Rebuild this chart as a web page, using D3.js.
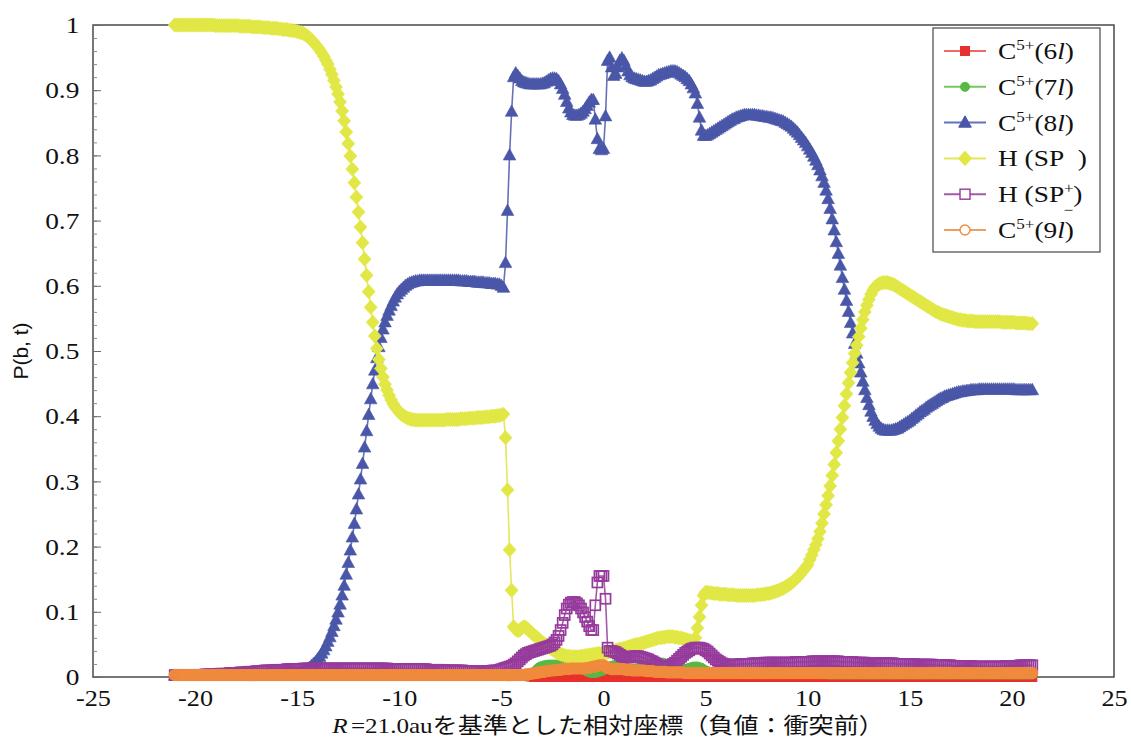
<!DOCTYPE html>
<html>
<head>
<meta charset="utf-8">
<script src="https://cdn.jsdelivr.net/npm/d3@7"></script>
<style>
  html, body { margin: 0; padding: 0; background: #fff; }
  svg { display: block; }
</style>
</head>
<body>
<svg id="chart" width="1131" height="741"></svg>
<script>
// Relative coordinate grid (au), sampled every 0.1 au from -21.0 to 21.0
const gridStart = -21.0;
const gridStep = 0.1;
const gridCount = 421;

const xTicks = [-25, -20, -15, -10, -5, 0, 5, 10, 15, 20, 25];
const yTicks = [0, 0.1, 0.2, 0.3, 0.4, 0.5, 0.6, 0.7, 0.8, 0.9, 1];

// C5+(6l) probability — one row per 1 au
const c6 = [
0.003,0.003,0.003,0.003,0.003,0.003,0.003,0.003,0.003,0.003,
0.003,0.003,0.003,0.003,0.003,0.003,0.003,0.003,0.003,0.003,
0.003,0.003,0.003,0.003,0.003,0.003,0.003,0.003,0.003,0.003,
0.003,0.003,0.003,0.003,0.003,0.003,0.003,0.003,0.003,0.003,
0.003,0.003,0.003,0.003,0.003,0.003,0.003,0.003,0.003,0.003,
0.003,0.003,0.003,0.003,0.003,0.003,0.003,0.003,0.003,0.003,
0.003,0.003,0.003,0.003,0.003,0.003,0.003,0.003,0.003,0.003,
0.003,0.003,0.003,0.003,0.003,0.003,0.003,0.003,0.003,0.003,
0.003,0.003,0.003,0.003,0.003,0.003,0.003,0.003,0.003,0.003,
0.003,0.003,0.003,0.003,0.003,0.003,0.003,0.003,0.003,0.003,
0.003,0.003,0.003,0.003,0.003,0.003,0.003,0.003,0.003,0.003,
0.003,0.003,0.003,0.003,0.003,0.003,0.003,0.003,0.003,0.003,
0.003,0.003,0.003,0.003,0.003,0.003,0.003,0.003,0.003,0.003,
0.003,0.003,0.003,0.003,0.003,0.003,0.003,0.003,0.003,0.003,
0.003,0.003,0.003,0.003,0.003,0.003,0.003,0.003,0.003,0.003,
0.003,0.003,0.003,0.003,0.003,0.003,0.003,0.003,0.003,0.003,
0.003,0.003,0.003,0.003,0.003,0.003,0.003,0.003,0.003,0.003,
0.003,0.003,0.002,0.002,0.001,0.001,0,0,0,0,
0,0,0,0,0,0,0,0,0,0,
0,0,0,0,0,0,0,0,0,0,
0,0,0,0,0,0,0,0,0,0,
0,0,0,0,0,0,0,0,0,0,
0,0,0,0,0,0,0,0,0,0,
0,0,0,0,0,0,0,0,0,0,
0,0,0,0,0,0,0,0,0,0,
0,0,0,0,0,0,0,0,0,0,
0,0,0,0,0,0,0,0,0,0,
0,0,0,0,0,0,0,0,0,0,
0,0,0,0,0,0,0,0,0,0,
0,0,0,0,0,0,0,0,0,0,
0,0,0,0,0,0,0,0,0,0,
0,0,0,0,0,0,0,0,0,0,
0,0,0,0,0,0,0,0,0,0,
0,0,0,0,0,0,0,0,0,0,
0,0,0,0,0,0,0,0,0,0,
0,0,0,0,0,0,0,0,0,0,
0,0,0,0,0,0,0,0,0,0,
0,0,0,0,0,0,0,0,0,0,
0,0,0,0,0,0,0,0,0,0,
0,0,0,0,0,0,0,0,0,0,
0,0,0,0,0,0,0,0,0,0,
0,0,0,0,0,0,0,0,0,0,
0
];

// C5+(7l) probability
const c7 = [
0.002,0.002,0.002,0.002,0.002,0.002,0.002,0.002,0.002,0.002,
0.002,0.002,0.002,0.002,0.002,0.002,0.002,0.002,0.002,0.002,
0.002,0.002,0.002,0.002,0.002,0.002,0.002,0.002,0.002,0.002,
0.002,0.002,0.002,0.002,0.002,0.002,0.002,0.002,0.002,0.002,
0.002,0.002,0.002,0.002,0.002,0.002,0.002,0.002,0.002,0.002,
0.002,0.002,0.002,0.002,0.002,0.002,0.002,0.002,0.002,0.002,
0.002,0.002,0.002,0.002,0.002,0.002,0.002,0.002,0.002,0.002,
0.002,0.002,0.002,0.002,0.002,0.002,0.002,0.002,0.002,0.002,
0.002,0.002,0.002,0.002,0.002,0.002,0.002,0.002,0.002,0.002,
0.002,0.002,0.002,0.002,0.002,0.002,0.002,0.002,0.002,0.002,
0.002,0.002,0.002,0.002,0.002,0.002,0.002,0.002,0.002,0.002,
0.002,0.002,0.002,0.002,0.002,0.002,0.002,0.002,0.002,0.002,
0.002,0.002,0.002,0.002,0.002,0.002,0.002,0.002,0.002,0.002,
0.002,0.002,0.002,0.002,0.002,0.002,0.002,0.002,0.002,0.002,
0.002,0.002,0.002,0.002,0.002,0.002,0.002,0.002,0.002,0.002,
0.002,0.002,0.002,0.002,0.002,0.002,0.002,0.002,0.002,0.002,
0.002,0.002,0.002,0.002,0.002,0.002,0.002,0.002,0.002,0.002,
0.002,0.002,0.002,0.002,0.003,0.005,0.008,0.011,0.014,0.016,
0.017,0.018,0.018,0.019,0.019,0.019,0.019,0.019,0.018,0.018,
0.018,0.018,0.018,0.018,0.017,0.017,0.017,0.016,0.015,0.014,
0.012,0.010,0.008,0.007,0.006,0.006,0.006,0.007,0.008,0.009,
0.010,0.012,0.014,0.016,0.017,0.018,0.018,0.018,0.017,0.016,
0.015,0.014,0.013,0.012,0.012,0.012,0.013,0.014,0.015,0.016,
0.017,0.018,0.019,0.020,0.021,0.021,0.022,0.022,0.022,0.022,
0.021,0.020,0.019,0.017,0.015,0.013,0.011,0.010,0.010,0.011,
0.012,0.013,0.014,0.015,0.016,0.016,0.016,0.015,0.014,0.012,
0.010,0.009,0.008,0.007,0.006,0.006,0.005,0.005,0.005,0.005,
0.005,0.005,0.005,0.005,0.005,0.005,0.005,0.005,0.005,0.005,
0.005,0.005,0.005,0.005,0.005,0.005,0.005,0.005,0.005,0.005,
0.005,0.005,0.005,0.005,0.005,0.005,0.005,0.005,0.005,0.005,
0.005,0.005,0.005,0.005,0.005,0.005,0.005,0.005,0.005,0.005,
0.005,0.005,0.005,0.005,0.005,0.005,0.005,0.005,0.005,0.005,
0.004,0.004,0.004,0.004,0.004,0.004,0.004,0.004,0.004,0.004,
0.004,0.004,0.004,0.004,0.004,0.004,0.004,0.004,0.004,0.004,
0.004,0.004,0.004,0.004,0.004,0.004,0.004,0.004,0.004,0.004,
0.004,0.004,0.004,0.004,0.004,0.004,0.004,0.004,0.004,0.004,
0.004,0.004,0.004,0.004,0.004,0.004,0.004,0.004,0.004,0.004,
0.004,0.004,0.004,0.004,0.004,0.004,0.004,0.004,0.004,0.004,
0.004,0.004,0.004,0.004,0.004,0.004,0.004,0.004,0.004,0.004,
0.004,0.004,0.004,0.004,0.004,0.004,0.004,0.004,0.004,0.004,
0.004,0.004,0.004,0.004,0.004,0.004,0.004,0.004,0.004,0.004,
0.004,0.004,0.004,0.004,0.004,0.004,0.004,0.004,0.004,0.004,
0.004
];

// C5+(8l) probability
const c8 = [
0.002,0.002,0.002,0.002,0.002,0.002,0.002,0.002,0.002,0.002,
0.002,0.002,0.002,0.002,0.002,0.002,0.002,0.002,0.002,0.002,
0.002,0.002,0.002,0.002,0.002,0.003,0.003,0.003,0.003,0.003,
0.003,0.003,0.003,0.003,0.003,0.003,0.003,0.003,0.003,0.003,
0.003,0.003,0.003,0.003,0.003,0.004,0.004,0.004,0.004,0.004,
0.004,0.004,0.004,0.004,0.004,0.005,0.005,0.005,0.005,0.005,
0.005,0.006,0.007,0.008,0.010,0.012,0.014,0.017,0.020,0.023,
0.027,0.031,0.036,0.041,0.047,0.054,0.061,0.069,0.078,0.088,
0.099,0.111,0.125,0.140,0.157,0.175,0.194,0.214,0.235,0.257,
0.280,0.303,0.327,0.352,0.377,0.402,0.426,0.449,0.470,0.489,
0.506,0.520,0.533,0.544,0.554,0.562,0.569,0.576,0.582,0.587,
0.591,0.594,0.597,0.600,0.602,0.604,0.605,0.606,0.607,0.607,
0.608,0.608,0.608,0.608,0.608,0.608,0.608,0.608,0.608,0.608,
0.608,0.608,0.608,0.608,0.608,0.608,0.608,0.608,0.608,0.608,
0.607,0.607,0.607,0.607,0.606,0.606,0.606,0.606,0.605,0.605,
0.605,0.605,0.604,0.604,0.604,0.603,0.603,0.603,0.602,0.602,
0.600,0.597,0.635,0.715,0.800,0.867,0.920,0.926,0.922,0.918,
0.914,0.912,0.911,0.910,0.909,0.909,0.909,0.909,0.909,0.909,
0.910,0.911,0.913,0.915,0.917,0.918,0.918,0.917,0.914,0.909,
0.902,0.893,0.882,0.872,0.866,0.862,0.861,0.861,0.862,0.864,
0.867,0.871,0.876,0.881,0.885,0.885,0.855,0.825,0.810,0.808,
0.810,0.860,0.945,0.950,0.935,0.922,0.925,0.935,0.945,0.949,
0.945,0.937,0.929,0.923,0.920,0.918,0.917,0.916,0.915,0.914,
0.913,0.913,0.914,0.915,0.917,0.919,0.921,0.923,0.924,0.925,
0.926,0.927,0.928,0.929,0.929,0.929,0.928,0.926,0.924,0.922,
0.920,0.917,0.914,0.909,0.903,0.895,0.879,0.858,0.838,0.830,
0.830,0.831,0.833,0.835,0.837,0.839,0.841,0.843,0.845,0.847,
0.849,0.851,0.853,0.855,0.856,0.858,0.859,0.860,0.861,0.862,
0.862,0.862,0.862,0.862,0.862,0.861,0.861,0.860,0.860,0.859,
0.859,0.858,0.858,0.857,0.856,0.855,0.854,0.853,0.852,0.850,
0.848,0.846,0.844,0.841,0.838,0.835,0.831,0.827,0.823,0.819,
0.814,0.809,0.804,0.798,0.792,0.785,0.777,0.768,0.758,0.746,
0.733,0.718,0.702,0.685,0.667,0.649,0.631,0.612,0.594,0.577,
0.560,0.543,0.527,0.511,0.496,0.481,0.467,0.453,0.440,0.428,
0.417,0.407,0.399,0.393,0.388,0.384,0.381,0.379,0.378,0.378,
0.378,0.378,0.379,0.380,0.381,0.383,0.385,0.387,0.389,0.391,
0.393,0.396,0.398,0.401,0.403,0.406,0.408,0.410,0.413,0.415,
0.417,0.419,0.421,0.423,0.425,0.427,0.428,0.430,0.431,0.432,
0.433,0.434,0.435,0.436,0.437,0.437,0.438,0.438,0.439,0.439,
0.440,0.440,0.440,0.440,0.441,0.441,0.441,0.441,0.441,0.441,
0.441,0.441,0.441,0.441,0.441,0.441,0.441,0.441,0.441,0.441,
0.441,0.441,0.440,0.440,0.440,0.440,0.440,0.440,0.440,0.440,
0.440
];

// H (SP-) probability
const spMinus = [
1.000,1.000,1.000,1.000,1.000,1.000,1.000,1.000,1.000,1.000,
1.000,1.000,1.000,1.000,1.000,1.000,1.000,1.000,1.000,1.000,
0.999,0.999,0.999,0.999,0.999,0.999,0.999,0.999,0.999,0.999,
0.999,0.999,0.998,0.998,0.998,0.998,0.998,0.998,0.997,0.997,
0.997,0.997,0.997,0.996,0.996,0.996,0.996,0.995,0.995,0.995,
0.995,0.994,0.994,0.993,0.993,0.993,0.992,0.992,0.991,0.991,
0.990,0.989,0.988,0.987,0.985,0.983,0.980,0.977,0.974,0.970,
0.966,0.962,0.957,0.952,0.946,0.940,0.932,0.924,0.915,0.905,
0.894,0.882,0.868,0.853,0.836,0.818,0.799,0.779,0.758,0.736,
0.713,0.690,0.666,0.641,0.616,0.591,0.567,0.544,0.523,0.504,
0.487,0.473,0.460,0.449,0.440,0.432,0.425,0.419,0.414,0.410,
0.406,0.403,0.401,0.399,0.397,0.396,0.395,0.395,0.394,0.394,
0.394,0.394,0.394,0.394,0.394,0.394,0.394,0.394,0.394,0.394,
0.394,0.394,0.394,0.395,0.395,0.395,0.395,0.395,0.395,0.395,
0.396,0.396,0.396,0.396,0.397,0.397,0.397,0.397,0.398,0.398,
0.398,0.398,0.399,0.399,0.399,0.400,0.400,0.400,0.401,0.401,
0.402,0.403,0.367,0.287,0.195,0.133,0.077,0.073,0.071,0.072,
0.075,0.077,0.076,0.073,0.070,0.067,0.064,0.062,0.059,0.056,
0.053,0.051,0.048,0.046,0.044,0.042,0.040,0.038,0.036,0.035,
0.034,0.033,0.032,0.032,0.031,0.031,0.031,0.031,0.031,0.032,
0.032,0.033,0.033,0.034,0.034,0.035,0.035,0.036,0.036,0.036,
0.037,0.037,0.038,0.038,0.039,0.040,0.041,0.042,0.043,0.043,
0.044,0.045,0.046,0.047,0.048,0.049,0.050,0.050,0.051,0.052,
0.053,0.054,0.055,0.056,0.057,0.058,0.059,0.060,0.060,0.061,
0.061,0.062,0.062,0.062,0.062,0.061,0.061,0.060,0.060,0.059,
0.058,0.057,0.056,0.055,0.054,0.060,0.075,0.092,0.110,0.125,
0.130,0.130,0.129,0.129,0.128,0.128,0.128,0.127,0.127,0.127,
0.127,0.126,0.126,0.126,0.126,0.125,0.125,0.125,0.125,0.125,
0.125,0.125,0.125,0.125,0.125,0.126,0.126,0.126,0.127,0.127,
0.128,0.128,0.129,0.130,0.131,0.132,0.133,0.135,0.136,0.138,
0.140,0.142,0.144,0.147,0.150,0.153,0.156,0.160,0.164,0.168,
0.172,0.180,0.187,0.195,0.203,0.212,0.223,0.236,0.250,0.264,
0.278,0.293,0.309,0.326,0.344,0.362,0.380,0.398,0.416,0.434,
0.451,0.467,0.482,0.496,0.509,0.522,0.535,0.548,0.560,0.570,
0.579,0.587,0.593,0.598,0.601,0.603,0.604,0.605,0.605,0.605,
0.604,0.603,0.602,0.600,0.598,0.596,0.594,0.592,0.590,0.588,
0.586,0.584,0.582,0.580,0.578,0.576,0.574,0.572,0.570,0.568,
0.566,0.564,0.562,0.560,0.559,0.557,0.556,0.555,0.554,0.553,
0.552,0.551,0.550,0.549,0.548,0.548,0.547,0.547,0.546,0.546,
0.546,0.546,0.545,0.545,0.545,0.545,0.545,0.545,0.545,0.545,
0.545,0.545,0.545,0.545,0.545,0.544,0.544,0.544,0.544,0.544,
0.544,0.544,0.543,0.543,0.543,0.543,0.543,0.543,0.542,0.542,
0.542
];

// H (SP+) probability
const spPlus = [
0.003,0.003,0.003,0.003,0.003,0.003,0.003,0.003,0.003,0.003,
0.003,0.003,0.003,0.003,0.003,0.004,0.004,0.004,0.004,0.004,
0.004,0.004,0.005,0.005,0.005,0.005,0.005,0.006,0.006,0.006,
0.006,0.006,0.007,0.007,0.007,0.007,0.008,0.008,0.008,0.008,
0.009,0.009,0.009,0.009,0.010,0.010,0.010,0.010,0.010,0.011,
0.011,0.011,0.011,0.011,0.011,0.012,0.012,0.012,0.012,0.012,
0.012,0.012,0.012,0.013,0.013,0.013,0.013,0.013,0.013,0.013,
0.013,0.013,0.013,0.013,0.013,0.013,0.013,0.013,0.013,0.013,
0.013,0.013,0.013,0.013,0.013,0.013,0.013,0.013,0.013,0.013,
0.013,0.013,0.013,0.013,0.013,0.013,0.013,0.013,0.013,0.013,
0.013,0.013,0.013,0.013,0.013,0.012,0.012,0.012,0.012,0.012,
0.012,0.012,0.012,0.012,0.012,0.012,0.012,0.012,0.012,0.012,
0.012,0.012,0.012,0.012,0.011,0.011,0.011,0.011,0.011,0.011,
0.011,0.011,0.011,0.010,0.010,0.010,0.010,0.010,0.010,0.010,
0.010,0.010,0.009,0.009,0.009,0.009,0.009,0.009,0.009,0.009,
0.009,0.009,0.009,0.009,0.009,0.009,0.010,0.010,0.010,0.011,
0.012,0.013,0.014,0.015,0.016,0.017,0.019,0.021,0.024,0.027,
0.030,0.033,0.035,0.037,0.038,0.039,0.040,0.041,0.042,0.043,
0.044,0.045,0.046,0.047,0.048,0.050,0.053,0.057,0.063,0.072,
0.083,0.095,0.105,0.111,0.114,0.115,0.115,0.113,0.110,0.105,
0.099,0.092,0.085,0.078,0.072,0.072,0.110,0.145,0.155,0.155,
0.155,0.120,0.045,0.040,0.040,0.039,0.038,0.036,0.034,0.032,
0.031,0.030,0.030,0.030,0.031,0.032,0.032,0.032,0.031,0.030,
0.029,0.028,0.027,0.025,0.024,0.022,0.020,0.018,0.017,0.016,
0.016,0.016,0.017,0.018,0.020,0.022,0.025,0.028,0.031,0.034,
0.037,0.039,0.041,0.043,0.044,0.045,0.045,0.045,0.044,0.043,
0.041,0.039,0.036,0.033,0.030,0.027,0.025,0.023,0.021,0.020,
0.019,0.019,0.019,0.019,0.019,0.019,0.019,0.020,0.020,0.020,
0.020,0.020,0.020,0.021,0.021,0.021,0.021,0.021,0.021,0.022,
0.022,0.022,0.022,0.022,0.022,0.022,0.022,0.022,0.022,0.022,
0.022,0.022,0.022,0.022,0.023,0.023,0.023,0.023,0.023,0.023,
0.023,0.023,0.024,0.024,0.024,0.024,0.024,0.024,0.024,0.024,
0.024,0.024,0.024,0.024,0.024,0.024,0.023,0.023,0.023,0.023,
0.023,0.023,0.023,0.022,0.022,0.022,0.022,0.022,0.022,0.021,
0.021,0.021,0.021,0.021,0.021,0.021,0.021,0.021,0.021,0.021,
0.021,0.021,0.021,0.020,0.020,0.020,0.020,0.020,0.020,0.020,
0.020,0.020,0.020,0.019,0.019,0.019,0.019,0.019,0.019,0.019,
0.019,0.019,0.018,0.018,0.018,0.018,0.018,0.018,0.018,0.018,
0.018,0.017,0.017,0.017,0.017,0.017,0.017,0.017,0.017,0.017,
0.017,0.016,0.016,0.016,0.016,0.016,0.016,0.016,0.016,0.016,
0.016,0.016,0.016,0.016,0.016,0.016,0.016,0.017,0.017,0.017,
0.017,0.017,0.017,0.017,0.018,0.018,0.018,0.018,0.018,0.018,
0.018
];

// C5+(9l) probability
const c9 = [
0.003,0.003,0.003,0.003,0.003,0.003,0.003,0.003,0.003,0.003,
0.003,0.003,0.003,0.003,0.003,0.003,0.003,0.003,0.003,0.003,
0.003,0.003,0.003,0.003,0.003,0.003,0.003,0.003,0.003,0.003,
0.003,0.003,0.003,0.003,0.003,0.003,0.003,0.003,0.003,0.003,
0.003,0.003,0.003,0.003,0.003,0.003,0.003,0.003,0.003,0.003,
0.003,0.003,0.003,0.003,0.003,0.003,0.003,0.003,0.003,0.003,
0.003,0.003,0.003,0.003,0.003,0.003,0.003,0.003,0.003,0.003,
0.003,0.003,0.003,0.003,0.003,0.003,0.003,0.003,0.003,0.003,
0.003,0.003,0.003,0.003,0.003,0.003,0.003,0.003,0.003,0.003,
0.003,0.003,0.003,0.003,0.003,0.003,0.003,0.003,0.003,0.003,
0.003,0.003,0.003,0.003,0.003,0.003,0.003,0.003,0.003,0.003,
0.003,0.003,0.003,0.003,0.003,0.003,0.003,0.003,0.003,0.003,
0.003,0.003,0.003,0.003,0.003,0.003,0.003,0.003,0.003,0.003,
0.003,0.003,0.003,0.003,0.003,0.003,0.003,0.003,0.003,0.003,
0.003,0.003,0.003,0.003,0.003,0.003,0.003,0.003,0.003,0.003,
0.003,0.003,0.003,0.003,0.003,0.003,0.003,0.003,0.003,0.003,
0.003,0.003,0.003,0.003,0.003,0.003,0.003,0.003,0.003,0.003,
0.003,0.003,0.004,0.004,0.005,0.005,0.006,0.006,0.007,0.007,
0.008,0.008,0.009,0.009,0.010,0.010,0.010,0.011,0.011,0.011,
0.012,0.012,0.012,0.012,0.013,0.013,0.013,0.013,0.013,0.013,
0.013,0.013,0.014,0.014,0.015,0.016,0.016,0.017,0.018,0.018,
0.018,0.016,0.014,0.013,0.012,0.012,0.012,0.012,0.012,0.012,
0.012,0.011,0.011,0.011,0.010,0.010,0.010,0.010,0.010,0.010,
0.010,0.009,0.009,0.009,0.009,0.008,0.008,0.008,0.008,0.008,
0.008,0.007,0.007,0.007,0.007,0.007,0.007,0.007,0.007,0.007,
0.006,0.006,0.006,0.006,0.006,0.006,0.006,0.006,0.006,0.006,
0.006,0.006,0.006,0.006,0.006,0.006,0.006,0.006,0.006,0.006,
0.006,0.006,0.006,0.006,0.006,0.006,0.006,0.006,0.006,0.006,
0.006,0.006,0.006,0.006,0.006,0.006,0.006,0.006,0.006,0.006,
0.006,0.006,0.006,0.006,0.006,0.006,0.006,0.006,0.006,0.006,
0.006,0.006,0.006,0.006,0.006,0.006,0.006,0.006,0.006,0.006,
0.006,0.006,0.006,0.006,0.006,0.006,0.006,0.006,0.006,0.006,
0.006,0.006,0.006,0.006,0.006,0.006,0.006,0.006,0.006,0.006,
0.006,0.006,0.006,0.006,0.006,0.006,0.006,0.006,0.006,0.006,
0.006,0.006,0.006,0.006,0.006,0.006,0.006,0.006,0.006,0.006,
0.006,0.006,0.006,0.006,0.006,0.006,0.006,0.006,0.006,0.006,
0.006,0.006,0.006,0.006,0.006,0.006,0.006,0.006,0.006,0.006,
0.006,0.006,0.006,0.006,0.006,0.006,0.006,0.006,0.006,0.006,
0.006,0.006,0.006,0.006,0.006,0.006,0.006,0.006,0.006,0.006,
0.006,0.006,0.006,0.006,0.006,0.006,0.006,0.006,0.006,0.006,
0.006,0.006,0.006,0.006,0.006,0.006,0.006,0.006,0.006,0.006,
0.006,0.006,0.006,0.006,0.006,0.006,0.006,0.006,0.006,0.006,
0.006
];

// Legend labels: pieces of [text, style]
const legendLabels = [
  [["C"], ["5+", "sup"], ["(6"], ["l", "it"], [")"]],
  [["C"], ["5+", "sup"], ["(7"], ["l", "it"], [")"]],
  [["C"], ["5+", "sup"], ["(8"], ["l", "it"], [")"]],
  [["H (SP\u2002)"]],
  [["H (SP"], ["+", "sup"], ["\u2212", "sub"], [")"]],
  [["C"], ["5+", "sup"], ["(9"], ["l", "it"], [")"]]
];

const xs = d3.range(gridCount).map(i => +(gridStart + i * gridStep).toFixed(1));

const plot = { left: 93, right: 1114, top: 25, bottom: 677 };
const x = d3.scaleLinear().domain([-25, 25]).range([plot.left, plot.right]);
const y = d3.scaleLinear().domain([0, 1]).range([plot.bottom, plot.top]);

const svg = d3.select("#chart");
const serif = "'Liberation Serif', 'Times New Roman', 'Noto Sans CJK JP', serif";
const stretch = 1.14; // horizontal text stretch

// marker shapes
const shapes = {
  square: g => g.append("rect").attr("x", -4.5).attr("y", -4.5).attr("width", 9).attr("height", 9),
  circle: g => g.append("circle").attr("r", 4.5),
  triangle: g => g.append("path").attr("d", "M0,-6.8L6.3,4.6L-6.3,4.6Z"),
  diamond: g => g.append("path").attr("d", "M0,-7.2L6.6,0L0,7.2L-6.6,0Z"),
  openSquare: g => g.append("rect").attr("x", -5).attr("y", -5).attr("width", 10).attr("height", 10),
  openCircle: g => g.append("circle").attr("r", 5)
};

const series = [
  { values: c6, shape: "square", fill: "#e8302c", stroke: "#e8302c", line: "#ef6a66", sw: 1 },
  { values: c7, shape: "circle", fill: "#55b943", stroke: "#55b943", line: "#74c762", sw: 1 },
  { values: c8, shape: "triangle", fill: "#4a57a8", stroke: "#4a57a8", line: "#6672b8", sw: 0.6 },
  { values: spMinus, shape: "diamond", fill: "#e1e745", stroke: "#e1e745", line: "#e3e85a", sw: 0.5 },
  { values: spPlus, shape: "openSquare", fill: "none", stroke: "#963a9c", line: "#a45aa9", sw: 1.7 },
  { values: c9, shape: "openCircle", fill: "none", stroke: "#f08a3c", line: "#f29e62", sw: 2.2 }
];

// frame
svg.append("rect")
  .attr("x", plot.left).attr("y", plot.top)
  .attr("width", plot.right - plot.left).attr("height", plot.bottom - plot.top)
  .attr("fill", "none").attr("stroke", "#4a4a4a").attr("stroke-width", 1.5);

// minor y ticks
const yMinorAxis = d3.axisLeft(y).tickValues(d3.range(0, 1.0001, 0.02)).tickSize(-4).tickFormat("");
svg.append("g").attr("transform", `translate(${plot.left},0)`).call(yMinorAxis)
  .call(g => g.select(".domain").remove())
  .call(g => g.selectAll("line").attr("stroke", "#8a8a8a"));

// major y ticks + labels
const yAxis = d3.axisLeft(y).tickValues(yTicks).tickSize(-8).tickPadding(12)
  .tickFormat(d => (d === 0 || d === 1) ? String(d) : d.toFixed(1));
svg.append("g").attr("transform", `translate(${plot.left},0)`).call(yAxis)
  .attr("font-family", serif)
  .call(g => g.select(".domain").remove())
  .call(g => g.selectAll("line").attr("stroke", "#6a6a6a"))
  .call(g => g.selectAll("text")
    .style("font-family", serif).style("font-size", "24px").attr("fill", "#111")
    .attr("transform", `scale(${stretch},1)`));

// x labels
const xAxis = d3.axisBottom(x).tickValues(xTicks).tickSize(0).tickPadding(13).tickFormat(d => String(d));
svg.append("g").attr("transform", `translate(0,${plot.bottom})`).call(xAxis)
  .attr("font-family", serif)
  .call(g => g.select(".domain").remove())
  .call(g => g.selectAll("text")
    .style("font-family", serif).style("font-size", "23px").attr("fill", "#111")
    .attr("transform", `scale(${stretch},1)`));

// series: line then markers, in legend order
const lineGen = d3.line().x((d, i) => x(xs[i])).y(d => y(d));
series.forEach(s => {
  const g = svg.append("g");
  g.append("path").datum(s.values)
    .attr("d", lineGen).attr("fill", "none")
    .attr("stroke", s.line).attr("stroke-width", 1.6);
  const marks = g.selectAll("g.m").data(s.values).join("g")
    .attr("class", "m")
    .attr("transform", (d, i) => `translate(${x(xs[i])},${y(d)})`);
  marks.each(function () {
    shapes[s.shape](d3.select(this))
      .attr("fill", s.fill).attr("stroke", s.stroke).attr("stroke-width", s.sw);
  });
});

// legend
const lg = svg.append("g");
lg.append("rect").attr("x", 933).attr("y", 28).attr("width", 167).attr("height", 224)
  .attr("fill", "#fff").attr("stroke", "#555").attr("stroke-width", 1.3);
series.forEach((s, k) => {
  const cy = 51 + k * 35.8;
  lg.append("line").attr("x1", 944).attr("x2", 986).attr("y1", cy).attr("y2", cy)
    .attr("stroke", s.line).attr("stroke-width", 2);
  const mg = lg.append("g").attr("transform", `translate(965,${cy})`);
  const open = s.shape.startsWith("open");
  shapes[s.shape](mg).attr("fill", open ? "#fff" : s.fill)
    .attr("stroke", s.stroke).attr("stroke-width", open ? 1.4 : 1);
  const t = lg.append("text")
    .attr("transform", `translate(998,${cy + 8}) scale(${stretch},1)`)
    .style("font-family", serif).style("font-size", "24px").attr("fill", "#111");
  let shift = 0;
  legendLabels[k].forEach(([txt, style]) => {
    const sp = t.append("tspan").text(txt);
    let target = 0;
    if (style === "sup") { target = -9; sp.style("font-size", "15px"); }
    if (style === "sub") { target = 13; sp.style("font-size", "15px").attr("dx", -9); }
    if (style === "it") sp.style("font-style", "italic");
    if (target !== shift) sp.attr("dy", target - shift);
    shift = target;
  });
});

// axis titles
svg.append("text")
  .attr("transform", "translate(28,351) rotate(-90)")
  .attr("text-anchor", "middle")
  .style("font-family", "'Liberation Sans', Arial, sans-serif")
  .style("font-size", "21px").attr("fill", "#111")
  .text("P(b, t)");

const xt = svg.append("text")
  .attr("transform", `translate(608,733) scale(${stretch},1)`)
  .attr("text-anchor", "middle")
  .style("font-family", serif).style("font-size", "22px").attr("fill", "#111");
xt.append("tspan").style("font-style", "italic").text("R");
xt.append("tspan").attr("dx", 3).text("=21.0auを基準とした相対座標（負値：衝突前）");
</script>
</body>
</html>
